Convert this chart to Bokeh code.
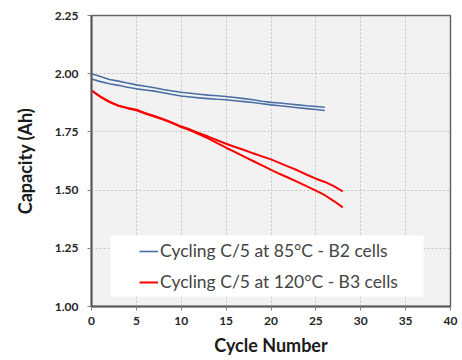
from bokeh.plotting import figure
from bokeh.models import (Range1d, FixedTicker, NumeralTickFormatter, Legend, LegendItem,
                          BoxAnnotation)
from bokeh.embed import file_html
from bokeh.resources import INLINE

# ---- data ----
cycles_b2 = list(range(0, 27))
b2_cell1 = [2.000, 1.988, 1.975, 1.968, 1.960, 1.952, 1.946, 1.940, 1.932, 1.926,
            1.920, 1.916, 1.912, 1.908, 1.905, 1.902, 1.898, 1.893, 1.888, 1.882,
            1.877, 1.874, 1.870, 1.866, 1.862, 1.859, 1.856]
b2_cell2 = [1.977, 1.966, 1.957, 1.950, 1.942, 1.935, 1.930, 1.925, 1.918, 1.911,
            1.904, 1.900, 1.896, 1.893, 1.890, 1.888, 1.884, 1.880, 1.876, 1.871,
            1.866, 1.862, 1.858, 1.854, 1.850, 1.846, 1.842]

cycles_b3 = list(range(0, 29))
b3_cell1 = [1.928, 1.902, 1.880, 1.863, 1.853, 1.845, 1.830, 1.818, 1.805, 1.790,
            1.773, 1.760, 1.745, 1.730, 1.714, 1.699, 1.685, 1.672, 1.658, 1.645,
            1.632, 1.616, 1.600, 1.584, 1.566, 1.549, 1.535, 1.517, 1.494]
b3_cell2 = [1.928, 1.900, 1.878, 1.862, 1.852, 1.843, 1.829, 1.816, 1.803, 1.788,
            1.771, 1.757, 1.740, 1.722, 1.702, 1.682, 1.663, 1.644, 1.625, 1.606,
            1.587, 1.569, 1.552, 1.534, 1.516, 1.498, 1.478, 1.453, 1.426]

x_ticks = [0, 5, 10, 15, 20, 25, 30, 35, 40]
y_ticks = [1.00, 1.25, 1.50, 1.75, 2.00, 2.25]

label_b2 = "Cycling C/5 at 85°C - B2 cells"
label_b3 = "Cycling C/5 at 120°C - B3 cells"

BLUE = "#4a6fa5"
RED = "#ff0000"
FONT = "Lato"

p = figure(width=462, height=360, output_backend="svg", toolbar_location=None,
           x_range=Range1d(0, 40), y_range=Range1d(1.0, 2.25),
           min_border_left=91, min_border_right=12, min_border_top=15, min_border_bottom=54)

p.background_fill_color = "#f2f2f2"
p.border_fill_color = "white"
p.outline_line_color = "#666666"
p.outline_line_width = 1.5

# grid
for g in (p.xgrid, p.ygrid):
    g.grid_line_color = "#c4c4c4"
    g.grid_line_dash = "2 2"
    g.grid_line_width = 1

# axes
for ax in (p.xaxis, p.yaxis):
    ax.axis_line_color = "#595959"
    ax.axis_line_width = 2
    ax.major_tick_line_color = "#808080"
    ax.major_tick_out = 4
    ax.major_tick_in = 0
    ax.minor_tick_line_color = None
    ax.major_label_text_font = FONT
    ax.major_label_text_font_style = "bold"
    ax.major_label_text_font_size = "12px"
    ax.major_label_text_color = "#262626"
    ax.axis_label_text_font = FONT
    ax.axis_label_text_font_style = "bold"
    ax.axis_label_text_font_size = "18px"
    ax.axis_label_text_color = "#1a1a1a"

p.xaxis.ticker = FixedTicker(ticks=x_ticks)
p.yaxis.ticker = FixedTicker(ticks=y_ticks)
p.yaxis.formatter = NumeralTickFormatter(format="0.00")
p.xaxis.axis_label = "Cycle Number"
p.yaxis.axis_label = "Capacity (Ah)"
p.xaxis.major_label_standoff = 6
p.yaxis.major_label_standoff = 9
p.xaxis.axis_label_standoff = 6
p.yaxis.axis_label_standoff = 16

# data lines
r1 = p.line(cycles_b2, b2_cell1, line_color=BLUE, line_width=1.6)
r2 = p.line(cycles_b2, b2_cell2, line_color=BLUE, line_width=1.6)
r3 = p.line(cycles_b3, b3_cell1, line_color=RED, line_width=2)
r4 = p.line(cycles_b3, b3_cell2, line_color=RED, line_width=2)

# legend panel (white box)
box = BoxAnnotation(left=2.1, right=37.0, bottom=1.043, top=1.305,
                    fill_color="white", fill_alpha=1.0, line_color=None, level="annotation")
p.add_layout(box)

legend = Legend(items=[LegendItem(label=label_b2, renderers=[r1]),
                       LegendItem(label=label_b3, renderers=[r3])],
                location=(48, 14), orientation="vertical",
                background_fill_alpha=0, border_line_color=None,
                padding=0, margin=0, spacing=10,
                glyph_width=19, glyph_height=20, label_height=20,
                label_standoff=2,
                label_text_font=FONT, label_text_font_size="17.5px")
p.add_layout(legend)

html = file_html(p, INLINE)
open("out.html", "w").write(html)
